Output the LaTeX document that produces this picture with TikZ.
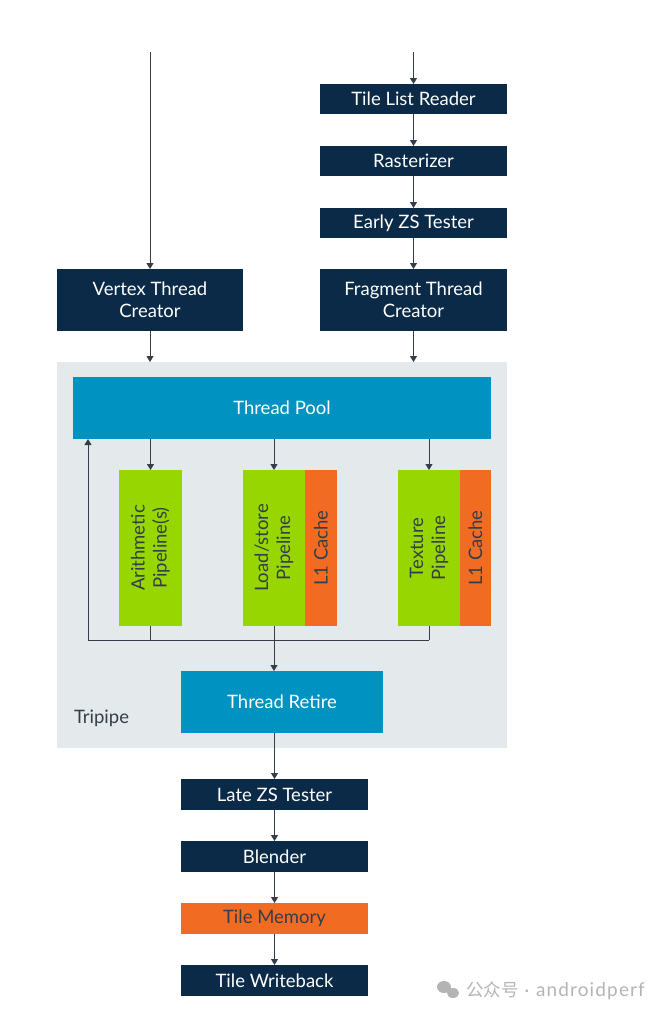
\documentclass[tikz,border=0pt]{standalone}
\usepackage{fontspec}
\setmainfont{Lato}
\newfontfamily\cjk{Noto Sans CJK SC}
\newfontfamily\wmfont[LetterSpace=6]{Lato}
\usetikzlibrary{arrows.meta}
\definecolor{navy}{HTML}{0A2A48}
\definecolor{tblue}{HTML}{0092C0}
\definecolor{tgreen}{HTML}{97D600}
\definecolor{torange}{HTML}{F26B23}
\definecolor{tgrey}{HTML}{E4EAEB}
\definecolor{tline}{HTML}{333E48}
\definecolor{wm}{HTML}{B4B4B4}
\begin{document}
\begin{tikzpicture}[x=1pt,y=-1pt,
  every node/.style={inner sep=0pt, outer sep=0pt, align=center, font=\fontsize{18.5}{22}\selectfont},
  navybox/.style={fill=navy, text=white},
  bluebox/.style={fill=tblue, text=white},
  greenbox/.style={fill=tgreen, text=tline, rotate=90},
  orangebox/.style={fill=torange, text=tline},
  conn/.style={draw=tline, line width=1pt},
  arr/.style={conn, -{Triangle[width=7pt,length=6pt]}}
]
\useasboundingbox (0,0) rectangle (669,1017);
\node[fill=tgrey, minimum width=450pt, minimum height=386pt] (grey) at (282,555) {};
\node[navybox, minimum width=187pt, minimum height=30pt] (tlr) at (413.5,99) {Tile List Reader};
\node[navybox, minimum width=187pt, minimum height=30pt] (rast) at (413.5,161) {Rasterizer};
\node[navybox, minimum width=187pt, minimum height=30pt] (ezs) at (413.5,223) {Early ZS Tester};
\node[navybox, minimum width=186pt, minimum height=62pt] (vtc) at (150,300) {Vertex Thread\\Creator};
\node[navybox, minimum width=187pt, minimum height=62pt] (ftc) at (413.5,300) {Fragment Thread\\Creator};
\node[bluebox, minimum width=418pt, minimum height=62pt] (pool) at (282,408) {Thread Pool};
\node[greenbox, minimum width=156pt, minimum height=63pt] (arith) at (150.5,548) {Arithmetic\\Pipeline(s)};
\node[greenbox, minimum width=156pt, minimum height=62pt] (ls) at (274,548) {Load/store\\Pipeline};
\node[orangebox, rotate=90, minimum width=156pt, minimum height=32pt] (l1a) at (321,548) {L1 Cache};
\node[greenbox, minimum width=156pt, minimum height=62pt] (tex) at (429,548) {Texture\\Pipeline};
\node[orangebox, rotate=90, minimum width=156pt, minimum height=31pt] (l1b) at (475.5,548) {L1 Cache};
\node[bluebox, minimum width=202pt, minimum height=62pt] (retire) at (282,702) {Thread Retire};
\node[anchor=west, text=tline] (tri) at (74,718) {Tripipe};
\node[navybox, minimum width=187pt, minimum height=31pt] (late) at (274.5,794.5) {Late ZS Tester};
\node[navybox, minimum width=187pt, minimum height=31pt] (blend) at (274.5,856.5) {Blender};
\node[orangebox, minimum width=187pt, minimum height=31pt] (tmem) at (274.5,918.5) {Tile Memory};
\node[navybox, minimum width=187pt, minimum height=31pt] (twb) at (274.5,980.5) {Tile Writeback};
\coordinate (topv) at (150,52);
\coordinate (topf) at (413.5,52);
\coordinate (fbl) at (88,640);
\coordinate (fbr) at (429,640);
% connectors
\draw[arr] (topv) -- (vtc.north);
\draw[arr] (topf) -- (tlr.north);
\draw[arr] (tlr.south) -- (rast.north);
\draw[arr] (rast.south) -- (ezs.north);
\draw[arr] (ezs.south) -- (ftc.north);
\draw[arr] (vtc.south) -- (vtc.south |- grey.north);
\draw[arr] (ftc.south) -- (ftc.south |- grey.north);
\draw[arr] (pool.south -| arith.east) -- (arith.east);
\draw[arr] (pool.south -| ls.east) -- (ls.east);
\draw[arr] (pool.south -| tex.east) -- (tex.east);
\draw[conn] (arith.west) -- (arith.west |- fbl);
\draw[conn] (tex.west) -- (fbr);
\draw[arr] (fbr) -- (fbl) -- (fbl |- pool.south);
\draw[arr] (ls.west) -- (ls.west |- retire.north);
\draw[arr] (late.north |- retire.south) -- (late.north);
\draw[arr] (late.south) -- (blend.north);
\draw[arr] (blend.south) -- (tmem.north);
\draw[arr] (tmem.south) -- (twb.north);
% watermark
\fill[wm] (444,987) ellipse (7pt and 6pt);
\fill[wm] (453,993) ellipse (6pt and 5pt);
\node[anchor=west, text=wm, font=\fontsize{17.5}{20}\selectfont] (wmt) at (466,991) {{\cjk 公众号}\hspace{6pt}·\hspace{7pt}{\wmfont\fontsize{19}{20}\selectfont androidperf}};
\end{tikzpicture}
\end{document}
